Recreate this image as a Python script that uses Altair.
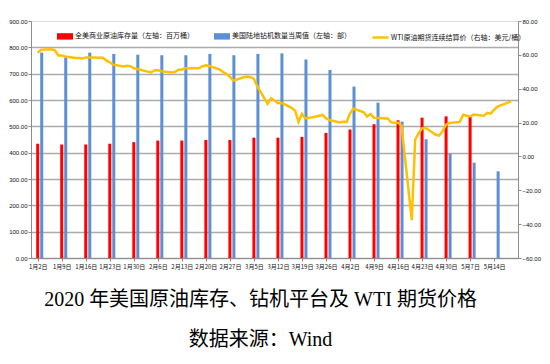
import altair as alt
import pandas as pd

# ---------------- data ----------------
week_dates = ["2020-01-02", "2020-01-09", "2020-01-16", "2020-01-23", "2020-01-30",
              "2020-02-06", "2020-02-13", "2020-02-20", "2020-02-27", "2020-03-05",
              "2020-03-12", "2020-03-19", "2020-03-26", "2020-04-02", "2020-04-09",
              "2020-04-16", "2020-04-23", "2020-04-30", "2020-05-07", "2020-05-14"]
inventory = [434, 431, 431, 434, 440, 446, 446, 448, 448, 457,
             457, 460, 475, 488, 508, 523, 533, 538, 536, None]
rigs = [780, 762, 780, 775, 772, 770, 770, 775, 770, 775,
        777, 754, 714, 651, 590, 518, 451, 396, 362, 329]

wti_dates = (
    ["2020-01-%02d" % d for d in [2, 3, 6, 7, 8, 9, 10, 13, 14, 15, 16, 17, 21, 22, 23, 24, 27, 28, 29, 30, 31]]
    + ["2020-02-%02d" % d for d in [3, 4, 5, 6, 7, 10, 11, 12, 13, 14, 18, 19, 20, 21, 24, 25, 26, 27, 28]]
    + ["2020-03-%02d" % d for d in [2, 3, 4, 5, 6, 9, 10, 11, 12, 13, 16, 17, 18, 19, 20, 23, 24, 25, 26, 27, 30, 31]]
    + ["2020-04-%02d" % d for d in [1, 2, 3, 6, 7, 8, 9, 13, 14, 15, 16, 17, 20, 21, 22, 23, 24, 27, 28, 29, 30]]
    + ["2020-05-%02d" % d for d in [1, 4, 5, 6, 7, 8, 11, 12, 13, 14, 15, 18, 19]]
)
wti = ([61.2, 63.1, 63.3, 62.7, 59.6, 59.6, 59.0, 58.1, 58.2, 57.8, 58.5, 58.5, 58.3, 56.7, 55.6, 54.2, 53.1, 53.5, 53.3, 52.1, 51.6]
       + [50.1, 49.6, 50.8, 51.0, 50.3, 49.6, 49.9, 51.2, 51.4, 52.1, 52.1, 53.3, 53.8, 53.4, 51.4, 49.9, 48.7, 47.1, 44.8]
       + [46.8, 47.2, 46.8, 45.9, 41.3, 31.1, 34.4, 33.0, 31.5, 31.7, 28.7, 27.0, 20.4, 25.2, 22.4, 23.4, 24.0, 24.5, 22.6, 21.5, 20.1, 20.5]
       + [20.3, 25.3, 28.3, 26.1, 23.6, 25.1, 22.8, 22.4, 20.1, 19.9, 19.9, 18.3, -37.6, 10.0, 13.8, 16.5, 16.9, 12.8, 12.3, 15.1, 18.8]
       + [19.8, 20.4, 24.6, 24.0, 23.6, 24.7, 24.1, 25.8, 25.3, 27.6, 29.4, 31.8, 32.5])

inv_name = "全美商业原油库存量（左轴：百万桶）"
rig_name = "美国陆地钻机数量当周值（左轴：部）"
wti_name = "WTI原油期货连续结算价（右轴：美元/桶）"

left_ticks = [0, 100, 200, 300, 400, 500, 600, 700, 800, 900]
right_ticks = [-60, -40, -20, 0, 20, 40, 60, 80]

df_inv = pd.DataFrame({"date": week_dates, "value": inventory, "series": inv_name})
df_rig = pd.DataFrame({"date": week_dates, "value": rigs, "series": rig_name})
df_wti = pd.DataFrame({"date": wti_dates, "value": wti, "series": wti_name})

# ---------------- styling ----------------
tick_font = "Liberation Sans, Noto Sans CJK SC"
cjk_font = "Noto Sans CJK SC"
axis_grey = "#8c8c8c"

x_enc = alt.X(
    "date:T",
    title=None,
    scale=alt.Scale(type="utc", nice=False,
                    domain=[alt.DateTime(year=2020, month=1, date=1, hours=12, utc=True),
                            alt.DateTime(year=2020, month=5, date=19, hours=12, utc=True)]),
    axis=alt.Axis(
        values=[alt.DateTime(year=2020, month=int(d[5:7]), date=int(d[8:10]), utc=True) for d in week_dates],
        labelExpr="(utcmonth(datum.value)+1) + '月' + utcdate(datum.value) + '日'",
        labelFont=cjk_font, labelFontSize=6, labelColor="#111", labelOverlap=False,
        labelPadding=2, tickSize=3, tickColor=axis_grey, domainColor=axis_grey,
        grid=False,
    ),
)

fill_scale = alt.Scale(domain=[inv_name, rig_name], range=["#FF0000", "#5B8FD6"])
fill_legend = alt.Legend(
    orient="none", legendX=26, legendY=7, direction="horizontal", title=None,
    symbolType="M-1,-0.4H1V0.4H-1Z", symbolSize=256, symbolStrokeWidth=0,
    labelFont=cjk_font, labelFontSize=7, labelColor="#111", labelOffset=2,
    labelLimit=300, columnPadding=20, padding=0,
)
left_axis = alt.Axis(
    values=left_ticks, format=".2f", title=None,
    labelFont=tick_font, labelFontSize=6, labelColor="#111", labelPadding=1,
    tickSize=3, tickColor=axis_grey, domainColor=axis_grey,
    grid=True, gridColor="#ababab", gridWidth=1.5,
    gridOpacity={"condition": {"test": "datum.value === 900", "value": 0}, "value": 1},
)
left_scale = alt.Scale(domain=[0, 900], nice=False)

bars_inv = alt.Chart(df_inv).mark_bar(size=3, xOffset=0).encode(
    x=x_enc,
    y=alt.Y("value:Q", scale=left_scale, axis=left_axis),
    fill=alt.Fill("series:N", scale=fill_scale, legend=fill_legend),
)
bars_rig = alt.Chart(df_rig).mark_bar(size=3, xOffset=4).encode(
    x=x_enc,
    y=alt.Y("value:Q", scale=left_scale, axis=left_axis),
    fill=alt.Fill("series:N", scale=fill_scale, legend=fill_legend),
)

line = alt.Chart(df_wti).mark_line(strokeWidth=2.5).encode(
    x=x_enc,
    y=alt.Y("value:Q", scale=alt.Scale(domain=[-60, 80], nice=False),
            axis=alt.Axis(values=right_ticks, format=".2f", title=None, orient="right",
                          labelFont=tick_font, labelFontSize=6, labelColor="#111",
                          labelPadding=1, tickSize=3, tickColor=axis_grey,
                          domainColor=axis_grey, grid=False)),
    stroke=alt.Stroke("series:N", scale=alt.Scale(domain=[wti_name], range=["#FFC000"]),
                      legend=alt.Legend(orient="none", legendX=340, legendY=7,
                                        direction="horizontal", title=None,
                                        symbolType="stroke", symbolSize=256,
                                        symbolStrokeWidth=2.5, labelFont=cjk_font,
                                        labelFontSize=7, labelColor="#111",
                                        labelOffset=1, labelLimit=300, padding=0)),
)

chart = (
    alt.layer(alt.layer(bars_inv, bars_rig), line)
    .resolve_scale(y="independent")
    .properties(
        width=487, height=237,
        padding={"left": 23, "top": 13, "right": 24, "bottom": 95},
        autosize=alt.AutoSizeParams(type="none"),
        title=alt.TitleParams(
            text="2020 年美国原油库存、钻机平台及 WTI 期货价格",
            subtitle="数据来源：Wind",
            orient="bottom", anchor="middle", dx=-14, offset=21,
            font="Liberation Serif, Noto Sans CJK SC", fontSize=20, fontWeight="normal", color="#000",
            subtitleFont="Liberation Serif, Noto Sans CJK SC", subtitleFontSize=20,
            subtitleColor="#000", subtitlePadding=20,
        ),
    )
    .configure_view(stroke=None)
    .configure(background="white")
)

chart.save("out.html", embed_options={"renderer": "svg", "actions": False})
